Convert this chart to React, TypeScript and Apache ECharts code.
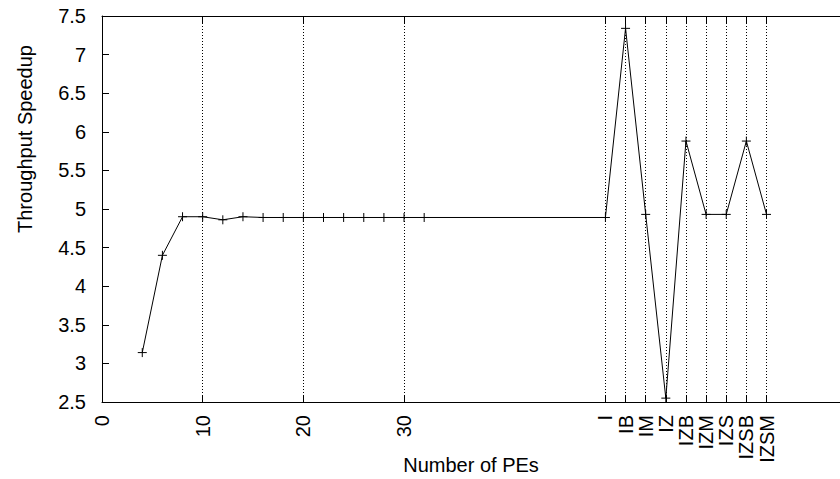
import React, { useEffect, useRef } from "react";
import * as echarts from "echarts";

// x positions of measurements (number of PEs, then configuration slots)
const xValues = [4, 6, 8, 10, 12, 14, 16, 18, 20, 22, 24, 26, 28, 30, 32, 50, 52, 54, 56, 58, 60, 62, 64, 66];
// Throughput speedup values
const speedup = [3.14, 4.4, 4.9, 4.9, 4.86, 4.9, 4.89, 4.89, 4.89, 4.89, 4.89, 4.89, 4.89, 4.89, 4.89, 4.89, 7.34, 4.93, 2.55, 5.88, 4.93, 4.93, 5.88, 4.93];

// numeric tick labels
const numericTicks = [0, 10, 20, 30];
// configuration tick positions and labels
const configTicks = [50, 52, 54, 56, 58, 60, 62, 64, 66];
const configLabels = ["I", "IB", "IM", "IZ", "IZB", "IZM", "IZS", "IZSB", "IZSM"];
// dotted vertical grid lines
const gridLines = [10, 20, 30, 50, 52, 54, 56, 58, 60, 62, 64, 66];

const yTicks = { min: 2.5, max: 7.5, interval: 0.5 };

const FONT = "'Liberation Sans', Arial, Helvetica, sans-serif";

export default function App() {
  const ref = useRef<HTMLDivElement>(null);
  useEffect(() => {
    if (!ref.current) return;
    const chart = echarts.init(ref.current, null, { renderer: "svg" });
    const allTicks = [...numericTicks, ...configTicks];
    const labelFor = (v: number) => {
      const i = configTicks.indexOf(v);
      if (i >= 0) return configLabels[i];
      return String(v);
    };
    chart.setOption({
      animation: false,
      backgroundColor: "#fff",
      textStyle: { fontFamily: FONT },
      grid: { left: 102, top: 16, right: 0, bottom: 77, containLabel: false, outerBoundsMode: "none" },
      xAxis: [
        {
          type: "value",
          min: 0,
          max: 73.3,
          position: "bottom",
          name: "Number of PEs",
          nameLocation: "middle",
          nameGap: 53,
          nameMoveOverlap: false,
          nameTextStyle: { fontSize: 20, color: "#000", fontFamily: FONT },
          axisLine: { show: true, lineStyle: { color: "#000", width: 1 } },
          axisTick: { show: true, inside: true, length: 7, customValues: allTicks, lineStyle: { color: "#000" } },
          axisLabel: {
            show: true,
            customValues: allTicks,
            rotate: 90,
            margin: 13,
            fontSize: 20,
            color: "#000",
            fontFamily: FONT,
            formatter: (v: number) => labelFor(v),
          },
          splitLine: { show: false },
        },
        {
          type: "value",
          min: 0,
          max: 73.3,
          position: "top",
          axisLine: { show: true, lineStyle: { color: "#000", width: 1 } },
          axisTick: { show: true, inside: true, length: 7, customValues: allTicks, lineStyle: { color: "#000" } },
          axisLabel: { show: false },
          splitLine: { show: false },
        },
      ],
      yAxis: {
        type: "value",
        min: yTicks.min,
        max: yTicks.max,
        interval: yTicks.interval,
        axisLine: { show: true, lineStyle: { color: "#000", width: 1 } },
        axisTick: { show: true, inside: true, length: 7, lineStyle: { color: "#000" } },
        axisLabel: { fontSize: 20, color: "#000", margin: 16, fontFamily: FONT },
        splitLine: { show: false },
      },
      graphic: [
        {
          type: "text",
          x: 25,
          y: 139,
          rotation: Math.PI / 2,
          style: {
            text: "Throughput Speedup",
            fontSize: 20,
            fontFamily: FONT,
            fill: "#000",
            textAlign: "center",
            textVerticalAlign: "middle",
          },
        },
      ],
      series: [
        {
          type: "line",
          data: xValues.map((x, i) => [x, speedup[i]]),
          lineStyle: { color: "#000", width: 1 },
          symbol: "path://M5,0L5,10M0,5L10,5",
          symbolSize: 9,
          itemStyle: { color: "none", borderColor: "#000", borderWidth: 1 },
          showSymbol: true,
          z: 3,
          markLine: {
            silent: true,
            symbol: ["none", "none"],
            label: { show: false },
            lineStyle: { color: "#000", width: 1, type: [1, 2] },
            data: gridLines.map((v) => ({ xAxis: v })),
          },
        },
      ],
    });
    return () => chart.dispose();
  }, []);
  return <div ref={ref} style={{ width: 840, height: 479, position: "absolute", left: 0, top: 0 }} />;
}
